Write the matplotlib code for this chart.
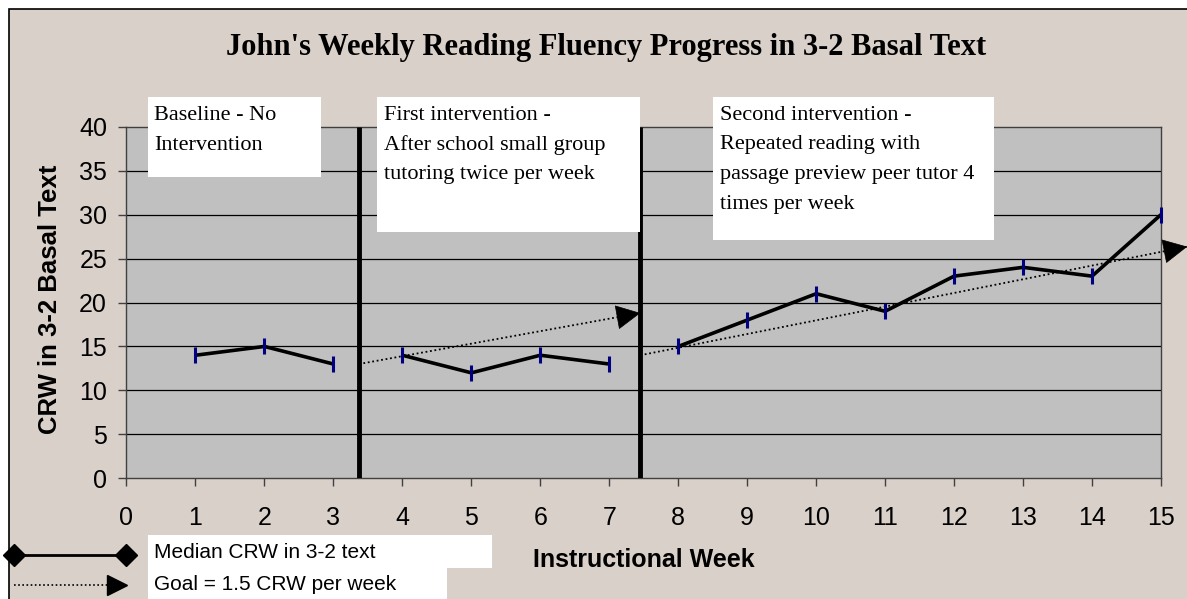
import numpy as np
import matplotlib
matplotlib.use("Agg")
import matplotlib.pyplot as plt
from matplotlib.patches import Rectangle
from matplotlib.lines import Line2D

# data
weeks = np.arange(1, 16)
crw = [14, 15, 13, 14, 12, 14, 13, 15, 18, 21, 19, 23, 24, 23, 30]
phase_of_week = [0, 0, 0, 1, 1, 1, 1, 2, 2, 2, 2, 2, 2, 2, 2]
phase_change = [3.37, 7.45]
phase_text = [["Baseline - No", "Intervention"],
              ["First intervention -", "After school small group",
               "tutoring twice per week"],
              ["Second intervention -", "Repeated reading with",
               "passage preview peer tutor 4", "times per week"]]
goal_start_week = [3.37, 7.45]
goal_start_crw = [13.0, 14.0]
goal_end_week = [7.45, 15.38]
goal_end_crw = [18.8, 26.35]
legend_labels = ["Median CRW in 3-2 text", "Goal = 1.5 CRW per week"]

W, H = 1187, 599
SERIF = "Liberation Serif"
SANS = "Liberation Sans"
BG = "#d9d0c9"
PLOT_BG = "#c0c0c0"


def fx(x):
    return x / W


def fy(y):
    return 1 - y / H


fig = plt.figure(figsize=(W / 100, H / 100), dpi=100, facecolor="white")
# chart area border
fig.patches.append(Rectangle((fx(9), -0.1), 1.2, fy(9) + 0.1, transform=fig.transFigure,
                             facecolor=BG, edgecolor="black", lw=1.2, zorder=-5))

ax = fig.add_axes([fx(126.5), fy(478.3), fx(1161 - 126.5), (478.3 - 126.7) / H])
ax.set_facecolor(PLOT_BG)
ax.set_xlim(0, 15)
ax.set_ylim(0, 40)
ax.set_xticks(range(0, 16))
ax.set_yticks(range(0, 41, 5))
for y in range(5, 40, 5):
    ax.axhline(y, color="black", lw=0.9, zorder=1)
for s in ax.spines.values():
    s.set_color("#404040")
    s.set_linewidth(1.0)
ax.tick_params(axis="both", direction="out", length=6, width=1, color="#404040",
               labelsize=18)
ax.tick_params(axis="x", pad=14)
ax.tick_params(axis="y", pad=8)
for lab in ax.get_xticklabels() + ax.get_yticklabels():
    lab.set_fontfamily(SANS)

# phase change lines
for xc in phase_change:
    ax.plot([xc, xc], [0, 40], color="black", lw=3.5, solid_capstyle="butt", zorder=4)

# median CRW line per phase
wk = np.array(weeks)
vals = np.array(crw)
ph = np.array(phase_of_week)
for p in range(3):
    m = ph == p
    ax.plot(wk[m], vals[m], color="black", lw=2.6, zorder=5, solid_capstyle="butt")
ax.plot(wk, vals, ls="none", marker="|", markersize=11, mew=2.2, color="#000080",
        zorder=6, clip_on=False)

# goal lines with arrows
for x0, y0, x1, y1 in zip(goal_start_week, goal_start_crw, goal_end_week, goal_end_crw):
    ax.plot([x0, x1], [y0, y1], color="black", lw=1.3, ls=(0, (1, 1.5)), zorder=3,
            clip_on=False)
    dx, dy = x1 - x0, y1 - y0
    ax.annotate("", xy=(x1, y1), xytext=(x1 - dx * 0.01, y1 - dy * 0.01),
                arrowprops=dict(arrowstyle="-|>,head_length=0.65,head_width=0.33",
                                color="black", lw=0.5, shrinkA=0, shrinkB=0,
                                mutation_scale=25),
                annotation_clip=False, zorder=7)

# annotation boxes for phases
boxes = [(148, 97, 321, 177, 154), (377, 97, 640, 232, 384), (713, 97, 994, 240, 720)]
for (x0, y0, x1, y1, tx), lines in zip(boxes, phase_text):
    fig.patches.append(Rectangle((fx(x0), fy(y1)), fx(x1 - x0), (y1 - y0) / H,
                                 transform=fig.transFigure, facecolor="white",
                                 edgecolor="none", zorder=8))
    for i, t in enumerate(lines):
        fig.text(fx(tx), fy(115 + 30 * i), t, fontsize=16, family=SERIF,
                 ha="left", va="center", zorder=9)

# title and axis labels
fig.text(fx(606), fy(47), "John's Weekly Reading Fluency Progress in 3-2 Basal Text",
         fontsize=22, fontweight="bold", family=SERIF, ha="center", va="center")
fig.text(fx(50), fy(299), "CRW in 3-2 Basal Text", rotation=90, fontsize=18.5,
         fontweight="bold", family=SANS, ha="center", va="center")
fig.text(fx(644), fy(560), "Instructional Week", fontsize=18, fontweight="bold",
         family=SANS, ha="center", va="center")

# legend drawn by hand
fig.patches.append(Rectangle((fx(148), fy(568)), fx(492 - 148), 33 / H,
                             transform=fig.transFigure, facecolor="white",
                             edgecolor="none", zorder=8))
fig.patches.append(Rectangle((fx(148), fy(600)), fx(447 - 148), 32 / H,
                             transform=fig.transFigure, facecolor="white",
                             edgecolor="none", zorder=8))
fig.lines.append(Line2D([fx(14), fx(126)], [fy(555), fy(555)], transform=fig.transFigure,
                        color="black", lw=2, marker="D", markersize=11, zorder=9))
fig.lines.append(Line2D([fx(14), fx(108)], [fy(585), fy(585)], transform=fig.transFigure,
                        color="black", lw=1.2, ls=(0, (1, 1.5)), zorder=9))
fig.lines.append(Line2D([fx(117)], [fy(585)], transform=fig.transFigure,
                        color="black", marker=">", markersize=14, ls="none", zorder=9))
for i, lab in enumerate(legend_labels):
    fig.text(fx(154), fy(552 + 32 * i), lab, fontsize=15, family=SANS,
             ha="left", va="center", zorder=10)

fig.savefig("out.png", dpi=100, facecolor="white")
